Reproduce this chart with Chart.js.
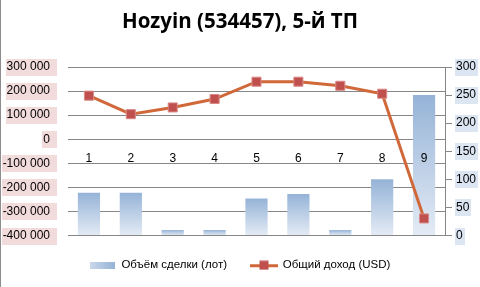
<!DOCTYPE html>
<html>
<head>
<meta charset="utf-8">
<script src="https://cdn.jsdelivr.net/npm/chart.js@4.4.0/dist/chart.umd.min.js"></script>
<style>
  html, body { margin: 0; padding: 0; background: #fff; }
  #wrap { width: 480px; height: 287px; }
</style>
</head>
<body>
<div id="wrap"><canvas id="chart"></canvas></div>
<script>
// Data
const categories = ['1', '2', '3', '4', '5', '6', '7', '8', '9'];
const dealVolume = [76, 76, 10, 10, 66, 74, 10, 100, 250];           // right axis (лот)
const totalIncome = [181000, 104000, 132000, 167000, 239000, 239000, 222000, 189000, -329000]; // left axis (USD)
const leftTicks = [300000, 200000, 100000, 0, -100000, -200000, -300000, -400000];
const rightTicks = [0, 50, 100, 150, 200, 250, 300];

const FONT = "'Liberation Sans', Arial, sans-serif";
const LINE_COLOR = '#d0683a';
const MARKER_COLOR = '#c0504d';

function fmtThousands(v) {
    const s = Math.abs(v).toString().replace(/\B(?=(\d{3})+(?!\d))/g, ' ');
    return (v < 0 ? '-' : '') + s;
}

function barGradient(ctx, top, bottom) {
    const g = ctx.createLinearGradient(0, top, 0, bottom);
    g.addColorStop(0, '#95b3d7');
    g.addColorStop(1, '#e4ebf5');
    return g;
}

// legend symbols
function barSymbol() {
    const c = document.createElement('canvas');
    c.width = 25; c.height = 7;
    const x = c.getContext('2d');
    const g = x.createLinearGradient(0, 0, 25, 0);
    g.addColorStop(0, '#c9d7ea');
    g.addColorStop(1, '#95b3d7');
    x.fillStyle = g;
    x.fillRect(0, 0, 25, 7);
    return c;
}
function lineSymbol() {
    const c = document.createElement('canvas');
    c.width = 28; c.height = 10;
    const x = c.getContext('2d');
    x.fillStyle = LINE_COLOR;
    x.fillRect(0, 4, 28, 3);
    x.fillStyle = MARKER_COLOR;
    x.fillRect(9.5, 0.5, 9, 9);
    return c;
}

// tinted boxes behind the axis labels, plus the thin left border
const labelBoxes = {
    id: 'labelBoxes',
    beforeDraw(chart) {
        const ctx = chart.ctx;
        ctx.save();
        ctx.fillStyle = '#8c8c8c';
        ctx.fillRect(0, 0, 1, chart.height);
        ctx.font = '12px ' + FONT;
        const y = chart.scales.y;
        ctx.fillStyle = '#f2dcdb';
        leftTicks.forEach(v => {
            const py = y.getPixelForValue(v);
            const w = ctx.measureText(fmtThousands(v)).width;
            const right = chart.chartArea.left - 11;
            const textRight = chart.chartArea.left - 18;
            ctx.fillRect(Math.round(textRight - w - 1), Math.round(py - 8), Math.round(right - (textRight - w - 1)), 17);
        });
        const y1 = chart.scales.y1;
        ctx.fillStyle = '#dce6f2';
        rightTicks.forEach(v => {
            const py = y1.getPixelForValue(v);
            const w = ctx.measureText(String(v)).width;
            const left = chart.chartArea.right + 10;
            ctx.fillRect(left, Math.round(py - 8), Math.round(w + 3), 17);
        });
        ctx.restore();
    }
};

new Chart(document.getElementById('chart'), {
    type: 'bar',
    data: {
        labels: categories,
        datasets: [
            {
                type: 'line',
                label: 'Общий доход (USD)',
                data: totalIncome,
                yAxisID: 'y',
                borderColor: LINE_COLOR,
                borderWidth: 3,
                pointStyle: 'rect',
                pointRadius: 6.4,
                pointBackgroundColor: MARKER_COLOR,
                pointBorderColor: '#d98a88',
                pointBorderWidth: 1,
                tension: 0,
                order: 1
            },
            {
                label: 'Объём сделки (лот)',
                data: dealVolume,
                yAxisID: 'y1',
                backgroundColor: function(context) {
                    const chart = context.chart;
                    if (!chart.chartArea || context.type !== 'data') return '#b8cce4';
                    const s = chart.scales.y1;
                    return barGradient(chart.ctx, s.getPixelForValue(context.raw), s.getPixelForValue(0));
                },
                barPercentage: 0.53,
                categoryPercentage: 1,
                order: 2
            }
        ]
    },
    options: {
        responsive: true,
        maintainAspectRatio: false,
        animation: false,
        layout: { padding: { left: 0, right: 0, top: 0, bottom: 6 } },
        plugins: {
            title: {
                display: true,
                text: 'Hozyin (534457), 5-й ТП',
                color: '#000',
                font: { family: "'Open Sans', sans-serif", size: 20.5, weight: 'bold', lineHeight: 1.2 },
                padding: { top: 10, bottom: 32.4 }
            },
            legend: {
                position: 'bottom',
                reverse: true,
                labels: {
                    usePointStyle: true,
                    pointStyleWidth: 26,
                    padding: 24,
                    color: '#000',
                    font: { family: FONT, size: 11.5 },
                    generateLabels: function(chart) {
                        return chart.data.datasets.map((ds, i) => ({
                            text: ds.label,
                            pointStyle: ds.type === 'line' ? lineSymbol() : barSymbol(),
                            datasetIndex: i,
                            hidden: false,
                            lineWidth: 0,
                            strokeStyle: 'transparent',
                            fillStyle: 'transparent'
                        }));
                    }
                }
            },
            tooltip: { enabled: false }
        },
        scales: {
            x: {
                position: { y: 0 },
                offset: true,
                grid: { display: false, drawTicks: false },
                border: { display: false },
                ticks: {
                    z: 1,
                    color: '#000',
                    font: { family: FONT, size: 12 },
                    padding: 12,
                    autoSkip: false,
                    maxRotation: 0
                }
            },
            y: {
                position: 'left',
                min: -400000,
                max: 300000,
                afterBuildTicks: function(scale) {
                    scale.ticks = leftTicks.map(v => ({ value: v }));
                },
                afterFit: function(scale) { scale.width = 68; },
                grid: { color: '#878787', lineWidth: 1, drawTicks: false },
                border: { display: false },
                ticks: {
                    color: '#000',
                    font: { family: FONT, size: 12 },
                    padding: 18,
                    callback: v => fmtThousands(v)
                }
            },
            y1: {
                position: 'right',
                min: 0,
                max: 300,
                afterBuildTicks: function(scale) {
                    scale.ticks = rightTicks.map(v => ({ value: v }));
                },
                afterFit: function(scale) { scale.width = 35; },
                grid: { drawOnChartArea: false, color: '#878787', tickLength: 7 },
                border: { display: true, color: '#878787' },
                ticks: {
                    color: '#000',
                    font: { family: FONT, size: 12 },
                    padding: 4
                }
            }
        }
    },
    plugins: [labelBoxes]
});
</script>
</body>
</html>
